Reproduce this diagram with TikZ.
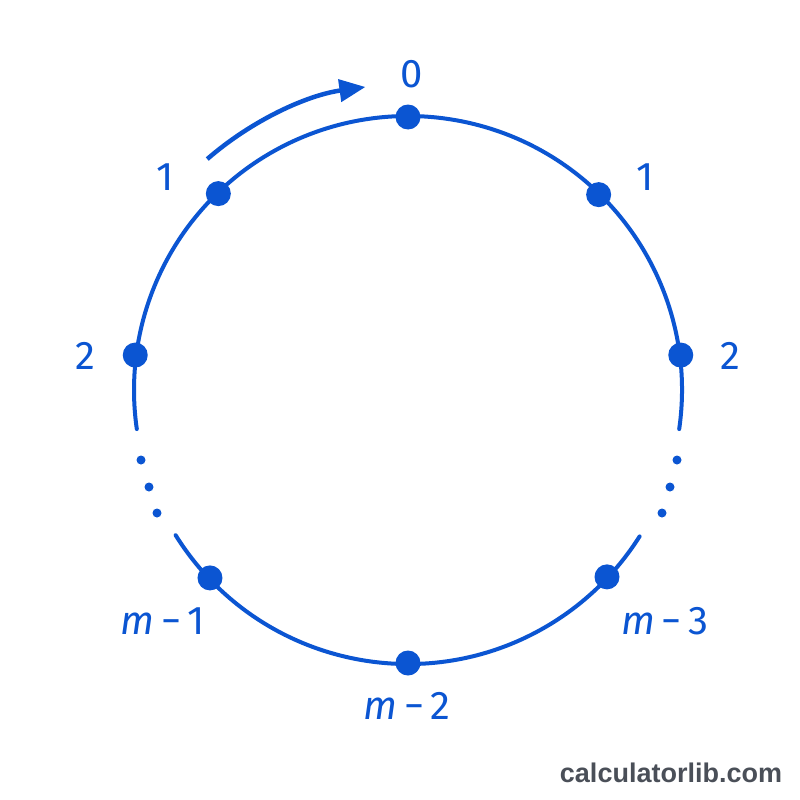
\documentclass[tikz,border=0pt]{standalone}
\usepackage{fontspec}
\setmainfont{Fira Sans}
\newfontfamily\wmfont{Liberation Sans}
\usetikzlibrary{arrows.meta,calc}
\definecolor{cblue}{HTML}{0B55D2}
\definecolor{wmgrey}{HTML}{4A4F58}
\begin{document}
\begin{tikzpicture}[x=1pt,y=-1pt,
  ring/.style={draw=cblue,line width=4pt},
  bigdot/.style={circle,fill=cblue,inner sep=0pt,minimum size=25pt},
  smalldot/.style={circle,fill=cblue,inner sep=0pt,minimum size=9pt},
  lab/.style={text=cblue,font=\fontsize{40}{40}\selectfont,inner sep=0pt,anchor=center},
  wm/.style={text=wmgrey,font=\wmfont\bfseries\fontsize{27}{27}\selectfont,inner sep=0pt}]
\useasboundingbox (0,0) rectangle (800,800);
\fill[white] (0,0) rectangle (800,800);
\coordinate (c) at (408,390);
% circle arcs (y axis flipped: TikZ angle = minus visual angle)
\draw[ring,line cap=round] ($(c)+(8.2:274)$) arc[start angle=8.2,end angle=-188.2,radius=274];
\draw[ring,line cap=round] ($(c)+(-212:274)$) arc[start angle=-212,end angle=-327.7,radius=274];
% points on the circle
\node[bigdot] (p0) at ($(c)+(-90:273)$) {};
\node[bigdot] (pl1) at ($(c)+(-134:273)$) {};
\node[bigdot] (pr1) at ($(c)+(-45.7:273)$) {};
\node[bigdot] (pl2) at ($(c)+(-172.7:275)$) {};
\node[bigdot] (pr2) at ($(c)+(-7.3:275)$) {};
\node[bigdot] (pm1) at ($(c)+(-223.5:273)$) {};
\node[bigdot] (pm3) at ($(c)+(-316.8:273)$) {};
\node[bigdot] (pm2) at ($(c)+(-270:273)$) {};
% ellipsis dots
\node[smalldot] (dl1) at (141,460) {};
\node[smalldot] (dl2) at (149,487) {};
\node[smalldot] (dl3) at (157,513) {};
\node[smalldot] (dr1) at (677,460) {};
\node[smalldot] (dr2) at (670,487) {};
\node[smalldot] (dr3) at (662,513) {};
% labels
\node[lab] (l0) at (412,74) {0};
\node[lab] (ll1) at (165,177) {1};
\node[lab] (lr1) at (645,177) {1};
\node[lab] (ll2) at (85,356) {2};
\node[lab] (lr2) at (730,356) {2};
\node[lab] (lm1) at (163,621) {\itshape m\,\upshape−\,1};
\node[lab] (lm3) at (665,621) {\itshape m\,\upshape−\,3};
\node[lab] (lm2) at (407,706) {\itshape m\,\upshape−\,2};
% direction arrow
\coordinate (as) at ($(c)+(-131:306)$);
\draw[draw=cblue,line width=4.5pt,-{Triangle[length=26pt,width=22pt]}]
  (as) arc[start angle=-131,end angle=-98,radius=306];
% watermark
\node[wm] (wm) at (671,773) {calculatorlib.com};
\end{tikzpicture}
\end{document}
